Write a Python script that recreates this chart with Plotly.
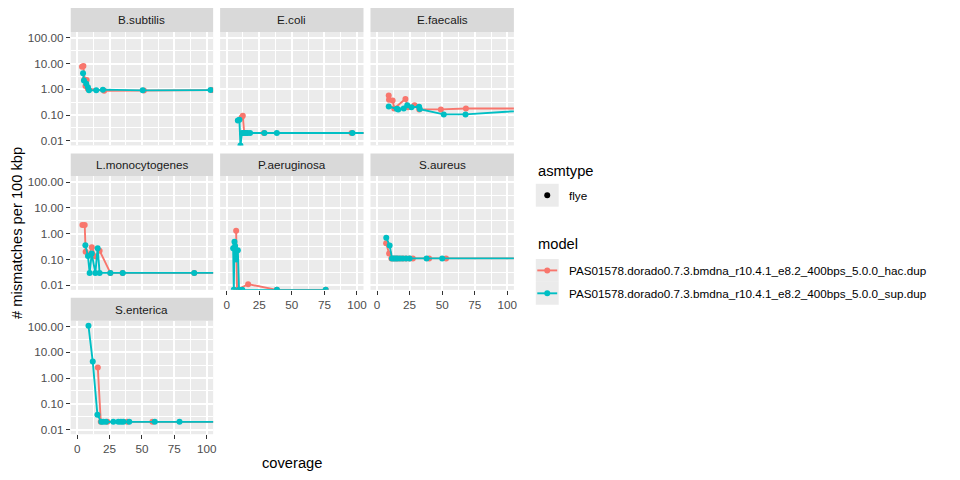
import plotly.graph_objects as go

# ---------------- data ----------------
species = ["B.subtilis", "E.coli", "E.faecalis", "L.monocytogenes",
           "P.aeruginosa", "S.aureus", "S.enterica"]
models = ["PAS01578.dorado0.7.3.bmdna_r10.4.1_e8.2_400bps_5.0.0_hac.dup",
          "PAS01578.dorado0.7.3.bmdna_r10.4.1_e8.2_400bps_5.0.0_sup.dup"]
model_colors = ["#F8766D", "#00BFC4"]
asmtype = ["flye"]

x_ticks = [0, 25, 50, 75, 100]
y_ticks = [0.01, 0.1, 1, 10, 100]
y_tick_labels = ["0.01", "0.10", "1.00", "10.00", "100.00"]

# 0 values (log -> -Inf) are drawn at the panel floor, as ggplot does
bsub_hac_x = [3.7, 4.8, 5.6, 6.4, 7.3, 8.2, 20.8, 51.5, 104.2]
bsub_hac_y = [7.6, 8.0, 2.4, 1.35, 2.3, 1.05, 0.88, 0.90, 0.93]
bsub_sup_x = [4.5, 5.2, 7.0, 8.3, 9.1, 14.7, 19.8, 50.6, 103.0]
bsub_sup_y = [4.2, 2.2, 1.65, 1.2, 0.91, 0.91, 0.97, 0.91, 0.93]

ecoli_hac_x = [11.5, 12.4, 13.5, 15.0, 28.6, 95.8, 130.0]
ecoli_hac_y = [0.08, 0.094, 0.02, 0.02, 0.02, 0.02, 0.02]
ecoli_sup_x = [8.6, 9.8, 10.6, 11.8, 13.0, 14.5, 16.0, 18.0, 29.0, 38.5, 96.5, 130.0]
ecoli_sup_y = [0.062, 0.065, 0, 0.02, 0.02, 0.02, 0.02, 0.02, 0.02, 0.02, 0.02, 0.02]

efae_hac_x = [9.0, 9.2, 12.0, 13.2, 21.8, 23.8, 28.8, 32.4, 49.0, 68.2, 130.0]
efae_hac_y = [0.58, 0.39, 0.37, 0.18, 0.42, 0.2, 0.24, 0.166, 0.166, 0.18, 0.18]
efae_sup_x = [9.0, 15.2, 16.3, 20.5, 23.2, 26.4, 32.3, 32.8, 51.2, 67.9, 130.0]
efae_sup_y = [0.215, 0.175, 0.166, 0.178, 0.24, 0.2, 0.21, 0.17, 0.106, 0.106, 0.17]

lmono_hac_x = [4.0, 5.8, 6.5, 9.0, 11.3, 14.2, 17.3, 25.6, 35.0, 90.4, 130.0]
lmono_hac_y = [2.2, 2.2, 0.2, 0.15, 0.3, 0.13, 0.22, 0.03, 0.03, 0.03, 0.03]
lmono_sup_x = [6.3, 8.3, 9.6, 11.2, 14.0, 15.8, 17.3, 25.6, 35.2, 90.4, 130.0]
lmono_sup_y = [0.36, 0.135, 0.03, 0.17, 0.03, 0.27, 0.03, 0.03, 0.03, 0.03, 0.03]

paer_hac_x = [7.3, 8.0, 16.5, 38.5, 76.0]
paer_hac_y = [1.3, 0, 0.011, 0, 0]
paer_sup_x = [5.0, 5.5, 6.0, 6.5, 7.3, 8.6, 9.5, 12.0, 38.6, 76.0]
paer_sup_y = [0.27, 0, 0.49, 0.33, 0.1, 0.23, 0, 0, 0, 0]

saur_hac_x = [7.0, 9.3, 11.0, 13.0, 15.0, 17.0, 19.5, 22.0, 25.0, 27.5, 40.0, 53.0, 130.0]
saur_hac_y = [0.43, 0.17, 0.11, 0.11, 0.11, 0.11, 0.11, 0.11, 0.11, 0.11, 0.11, 0.11, 0.11]
saur_sup_x = [7.1, 9.7, 11.5, 13.0, 14.5, 16.0, 18.0, 20.0, 22.5, 25.0, 38.0, 50.0, 130.0]
saur_sup_y = [0.7, 0.35, 0.11, 0.11, 0.11, 0.11, 0.11, 0.11, 0.11, 0.11, 0.11, 0.11, 0.11]

sent_hac_x = [15.9, 18.2, 23.3, 38.6, 58.1, 130.0]
sent_hac_y = [2.6, 0.02, 0.02, 0.02, 0.02, 0.02]
sent_sup_x = [8.7, 12.0, 15.6, 18.6, 20.2, 22.3, 27.9, 31.8, 33.8, 35.6, 40.2, 59.9, 79.0, 130.0]
sent_sup_y = [107, 4.4, 0.038, 0.02, 0.02, 0.02, 0.02, 0.02, 0.02, 0.02, 0.02, 0.02, 0.02, 0.02]

series = [
    [(bsub_hac_x, bsub_hac_y), (bsub_sup_x, bsub_sup_y)],
    [(ecoli_hac_x, ecoli_hac_y), (ecoli_sup_x, ecoli_sup_y)],
    [(efae_hac_x, efae_hac_y), (efae_sup_x, efae_sup_y)],
    [(lmono_hac_x, lmono_hac_y), (lmono_sup_x, lmono_sup_y)],
    [(paer_hac_x, paer_hac_y), (paer_sup_x, paer_sup_y)],
    [(saur_hac_x, saur_hac_y), (saur_sup_x, saur_sup_y)],
    [(sent_hac_x, sent_hac_y), (sent_sup_x, sent_sup_y)],
]

# ---------------- layout geometry ----------------
W, H = 960, 480
OFF = 8  # page body margin offset
X_RANGE = [-5, 105]
Y_LOG_RANGE = [-2.18, 2.23]
FLOOR = 10 ** Y_LOG_RANGE[0]

COLS = [(71, 214), (221, 365), (372, 516)]
ROWS = [(31, 145), (176, 290), (321, 435)]
STRIPS = [(7, 31), (153, 176), (298, 321)]

FONT = "Liberation Sans, Arial, sans-serif"


def fx(p):
    return (p - OFF) / W


def fy(p):
    return 1 - (p - OFF) / H


fig = go.Figure()
layout = dict(
    width=W, height=H, autosize=False,
    margin=dict(l=0, r=0, t=0, b=0),
    paper_bgcolor="white", plot_bgcolor="#EBEBEB",
    showlegend=False, font=dict(family=FONT),
)
shapes = []
annotations = []

minor_y = [10 ** -1.5, 10 ** -0.5, 10 ** 0.5, 10 ** 1.5]
minor_x = [12.5, 37.5, 62.5, 87.5]

for i, sp in enumerate(species):
    r, c = divmod(i, 3)
    xa = "x" if i == 0 else f"x{i+1}"
    ya = "y" if i == 0 else f"y{i+1}"
    bottom = i + 3 >= len(species)
    left = c == 0

    for m, (xs, ys) in enumerate(series[i]):
        yy = [v if v > 0 else FLOOR for v in ys]
        fig.add_trace(go.Scatter(
            x=xs, y=yy, xaxis=xa, yaxis=ya, mode="lines+markers",
            line=dict(color=model_colors[m], width=1.9),
            marker=dict(color=model_colors[m], size=6),
            name=models[m], hoverinfo="x+y",
        ))

    xkey = "xaxis" if i == 0 else f"xaxis{i+1}"
    ykey = "yaxis" if i == 0 else f"yaxis{i+1}"
    layout[xkey] = dict(
        domain=[fx(COLS[c][0]), fx(COLS[c][1])], anchor=ya,
        range=X_RANGE, tickmode="array", tickvals=x_ticks,
        showticklabels=bottom, ticks="outside" if bottom else "",
        ticklen=4, tickwidth=1.4, tickcolor="#333333",
        tickfont=dict(size=11.7, color="#4D4D4D", family=FONT),
        showgrid=True, gridcolor="white", gridwidth=1.9,
        zeroline=False, showline=False,
        minor=dict(tickmode="array", tickvals=minor_x, showgrid=True,
                   gridcolor="white", gridwidth=0.95, ticks=""),
    )
    layout[ykey] = dict(
        domain=[fy(ROWS[r][1]), fy(ROWS[r][0])], anchor=xa,
        type="log", range=Y_LOG_RANGE, tickmode="array",
        tickvals=y_ticks, ticktext=y_tick_labels,
        showticklabels=left, ticks="outside" if left else "",
        ticklen=4, tickwidth=1.4, tickcolor="#333333",
        tickfont=dict(size=11.7, color="#4D4D4D", family=FONT),
        showgrid=True, gridcolor="white", gridwidth=1.9,
        zeroline=False, showline=False,
        minor=dict(tickmode="array", tickvals=minor_y, showgrid=True,
                   gridcolor="white", gridwidth=0.95, ticks=""),
    )
    # strip
    shapes.append(dict(type="rect", xref="paper", yref="paper",
                       x0=fx(COLS[c][0]), x1=fx(COLS[c][1]),
                       y0=fy(STRIPS[r][1]), y1=fy(STRIPS[r][0]),
                       fillcolor="#D9D9D9", line=dict(width=0), layer="below"))
    annotations.append(dict(text=sp, xref="paper", yref="paper",
                            x=fx((COLS[c][0] + COLS[c][1]) / 2),
                            y=fy((STRIPS[r][0] + STRIPS[r][1]) / 2),
                            showarrow=False, xanchor="center", yanchor="middle",
                            font=dict(size=11.7, color="#1A1A1A", family=FONT)))

# axis titles
annotations.append(dict(text="coverage", xref="paper", yref="paper",
                        x=fx((COLS[0][0] + COLS[2][1]) / 2), y=fy(464),
                        showarrow=False, xanchor="center", yanchor="middle",
                        font=dict(size=14.7, color="black", family=FONT)))
annotations.append(dict(text="# mismatches per 100 kbp", xref="paper", yref="paper",
                        x=fx(OFF), y=fy((ROWS[0][0] + ROWS[2][1]) / 2), textangle=-90,
                        showarrow=False, xanchor="left", yanchor="middle", borderpad=0,
                        font=dict(size=14.7, color="black", family=FONT)))

# legend (ggplot style, drawn manually)
LX0, LX1 = 538, 561
annotations.append(dict(text="asmtype", xref="paper", yref="paper",
                        x=fx(538), y=fy(171), showarrow=False,
                        xanchor="left", yanchor="middle",
                        font=dict(size=14.7, color="black", family=FONT)))
key_y = [195]
for k, lab in enumerate(asmtype):
    cy = key_y[k]
    shapes.append(dict(type="rect", xref="paper", yref="paper",
                       x0=fx(LX0), x1=fx(LX1), y0=fy(cy + 11.5), y1=fy(cy - 11.5),
                       fillcolor="#EBEBEB", line=dict(width=0)))
    shapes.append(dict(type="circle", xref="paper", yref="paper",
                       x0=fx(549.5 - 3), x1=fx(549.5 + 3), y0=fy(cy + 3), y1=fy(cy - 3),
                       fillcolor="black", line=dict(width=0)))
    annotations.append(dict(text=lab, xref="paper", yref="paper",
                            x=fx(569), y=fy(cy), showarrow=False,
                            xanchor="left", yanchor="middle",
                            font=dict(size=11.7, color="black", family=FONT)))

annotations.append(dict(text="model", xref="paper", yref="paper",
                        x=fx(538), y=fy(244), showarrow=False,
                        xanchor="left", yanchor="middle",
                        font=dict(size=14.7, color="black", family=FONT)))
model_key_y = [270.5, 293.5]
for k, lab in enumerate(models):
    cy = model_key_y[k]
    shapes.append(dict(type="rect", xref="paper", yref="paper",
                       x0=fx(LX0), x1=fx(LX1), y0=fy(cy + 11.5), y1=fy(cy - 11.5),
                       fillcolor="#EBEBEB", line=dict(width=0)))
    shapes.append(dict(type="line", xref="paper", yref="paper",
                       x0=fx(539.5), x1=fx(559.5), y0=fy(cy), y1=fy(cy),
                       line=dict(color=model_colors[k], width=1.9)))
    shapes.append(dict(type="circle", xref="paper", yref="paper",
                       x0=fx(549.5 - 3), x1=fx(549.5 + 3), y0=fy(cy + 3), y1=fy(cy - 3),
                       fillcolor=model_colors[k], line=dict(width=0)))
    annotations.append(dict(text=lab, xref="paper", yref="paper",
                            x=fx(569), y=fy(cy), showarrow=False,
                            xanchor="left", yanchor="middle",
                            font=dict(size=11.7, color="black", family=FONT)))

layout["shapes"] = shapes
layout["annotations"] = annotations
fig.update_layout(**layout)
fig.write_html("out.html")
